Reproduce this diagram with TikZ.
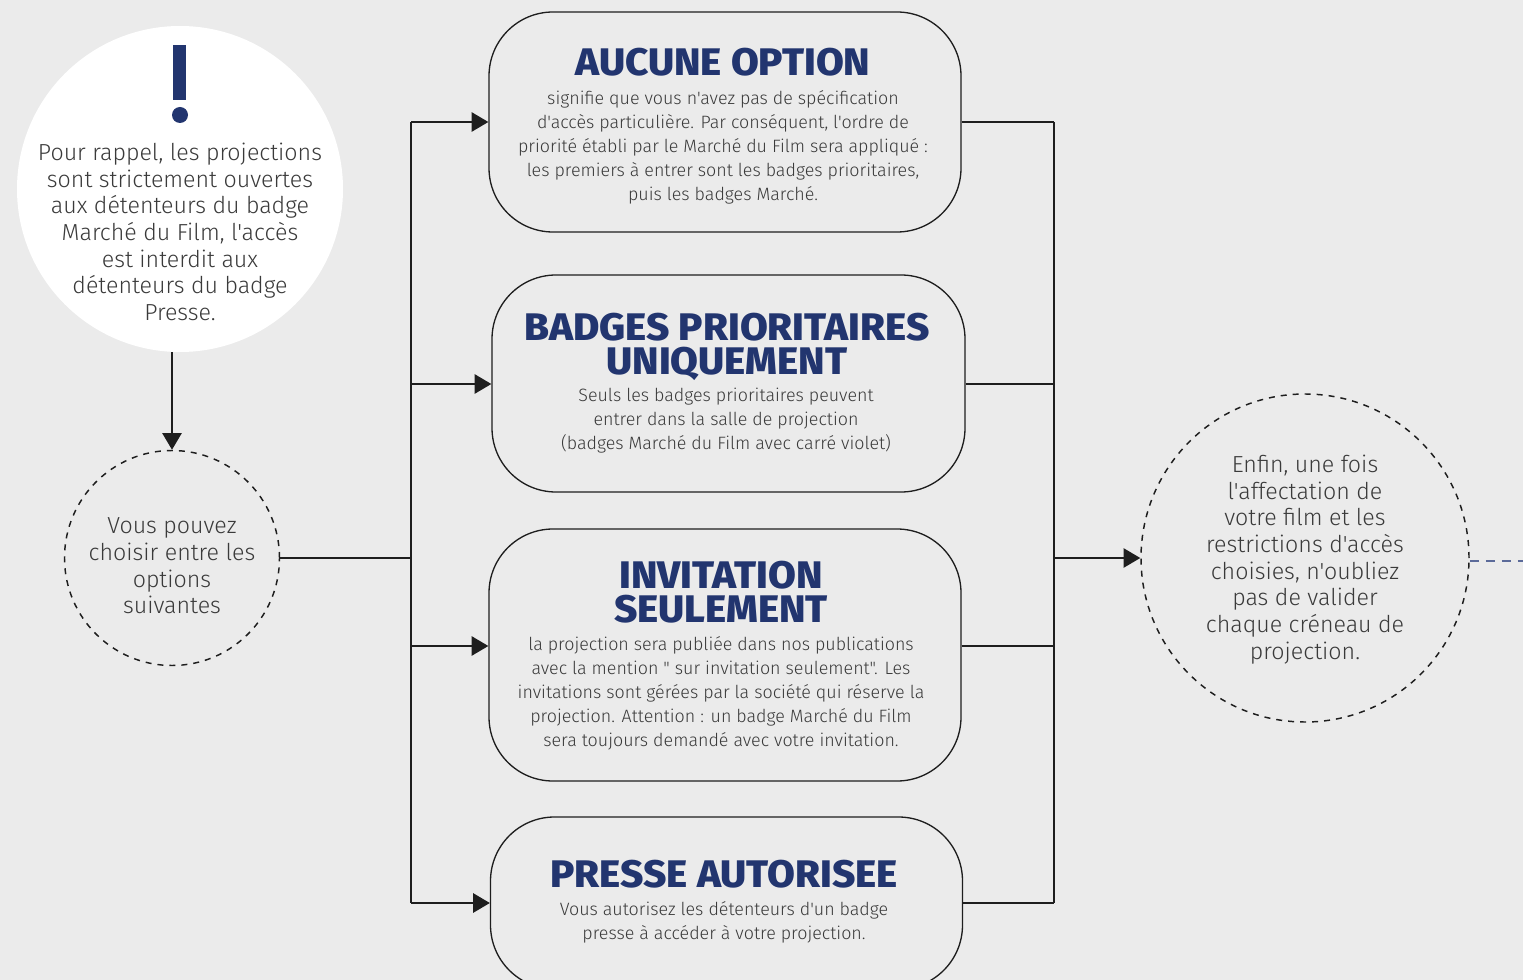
\documentclass[tikz,border=0pt]{standalone}
\usepackage{fontspec}
\setmainfont{Fira Sans}
\newfontfamily\bodyfont{Fira Sans Light}
\newfontfamily\headfont{Fira Sans ExtraBold}[FakeStretch=1.05]
\usetikzlibrary{arrows.meta}
\definecolor{bg}{HTML}{EBEBEB}
\definecolor{navy}{HTML}{22356F}
\definecolor{txt}{HTML}{3A3A3A}
\definecolor{ln}{HTML}{1E1E1E}
\definecolor{dashblue}{HTML}{5B6A99}
\begin{document}
\begin{tikzpicture}[x=0.75pt,y=-0.75pt,
  optbox/.style={draw=ln, line width=1pt, rounded corners=48pt, fill=bg, inner sep=0pt},
  conn/.style={draw=ln, line width=1.1pt},
  arr/.style={conn, -{Triangle[length=12.5pt,width=14.5pt]}},
  dcircle/.style={circle, draw=ln, line width=1.1pt, dash pattern=on 4.5pt off 4.5pt, inner sep=0pt},
  head/.style={text=navy, font=\headfont\fontsize{28.8}{25.5}\selectfont, anchor=base, inner sep=0pt},
  body/.style={text=txt, font=\bodyfont\fontsize{13.4}{18}\selectfont, align=center, inner sep=0pt},
  ctext/.style={text=txt, font=\bodyfont\fontsize{17.4}{20}\selectfont, align=center, inner sep=0pt},
]
\useasboundingbox (0,0) rectangle (1523,980);
\fill[bg] (0,0) rectangle (1523,980);
\clip (0,0) rectangle (1523,980);

% left white circle with exclamation mark
\node[circle, fill=white, minimum size=244.5pt, inner sep=0pt] (c1) at (180,189) {};
\fill[navy] (173,45) rectangle (186,100);
\fill[navy] (180,115) circle[radius=8];
\node[ctext] (t1) at (180,232) {Pour rappel, les projections\\sont strictement ouvertes\\aux détenteurs du badge\\Marché du Film, l'accès\\est interdit aux\\détenteurs du badge\\Presse.};

% second circle
\node[dcircle, minimum size=161.25pt] (c2) at (172,558) {};
\node[ctext] (t2) at (172,566) {Vous pouvez\\choisir entre les\\options\\suivantes};

% option boxes
\node[optbox, minimum width=354pt, minimum height=165pt] (b1) at (725,122) {};
\node[head] (h1) at (723,76) {AUCUNE OPTION};
\node[body] (p1) at (723,147) {signifie que vous n'avez pas de spécification\\d'accès particulière. Par conséquent, l'ordre de\\priorité établi par le Marché du Film sera appliqué :\\les premiers à entrer sont les badges prioritaires,\\puis les badges Marché.};

\node[optbox, minimum width=354.75pt, minimum height=162.75pt] (b2) at (728.5,383.5) {};
\node[head] (h2a) at (727,340) {BADGES PRIORITAIRES};
\node[head] (h2b) at (727,374) {UNIQUEMENT};
\node[body] (p2) at (726,421) {Seuls les badges prioritaires peuvent\\entrer dans la salle de projection\\(badges Marché du Film avec carré violet)};

\node[optbox, minimum width=354pt, minimum height=189pt] (b3) at (725,655) {};
\node[head] (h3a) at (721,588) {INVITATION};
\node[head] (h3b) at (721,622) {SEULEMENT};
\node[body] (p3) at (721,693) {la projection sera publiée dans nos publications\\avec la mention " sur invitation seulement". Les\\invitations sont gérées par la société qui réserve la\\projection. Attention : un badge Marché du Film\\sera toujours demandé avec votre invitation.};

\node[optbox, minimum width=354pt, minimum height=129pt] (b4) at (726.5,903) {};
\node[head] (h4) at (724,887) {PRESSE AUTORISEE};
\node[body] (p4) at (724,922) {Vous autorisez les détenteurs d'un badge\\presse à accéder à votre projection.};

% right circle
\node[dcircle, minimum size=246pt] (c3) at (1305,558) {};
\node[ctext] (t3) at (1305,559.5) {Enfin, une fois\\l'affectation de\\votre film et les\\restrictions d'accès\\choisies, n'oubliez\\pas de valider\\chaque créneau de\\projection.};

% connector coordinates
\coordinate (jL) at (411,558);
\coordinate (l1) at (411,122);
\coordinate (l2) at (411,384);
\coordinate (l3) at (411,646);
\coordinate (l4) at (411,903);
\coordinate (r1) at (1054,122);
\coordinate (r2) at (1054,384);
\coordinate (r3) at (1054,646);
\coordinate (r4) at (1054,903);
\coordinate (jR) at (1054,558);
\coordinate (out) at (1530,561);

% connectors
\draw[arr] (c2.north |- c1.south) -- (c2.north);
\draw[conn] (c2.east) -- (jL);
\draw[conn] (l1) -- (l4);
\draw[arr] (l1) -- (l1 -| b1.west);
\draw[arr] (l2) -- (l2 -| b2.west);
\draw[arr] (l3) -- (l3 -| b3.west);
\draw[arr] (l4) -- (l4 -| b4.west);
\draw[conn] (r1 -| b1.east) -- (r1);
\draw[conn] (r2 -| b2.east) -- (r2);
\draw[conn] (r3 -| b3.east) -- (r3);
\draw[conn] (r4 -| b4.east) -- (r4);
\draw[conn] (r1) -- (r4);
\draw[arr] (jR) -- (c3.west);
\draw[dashblue, line width=1pt, dash pattern=on 7pt off 5pt] (c3.east |- out) -- (out);
\end{tikzpicture}
\end{document}
